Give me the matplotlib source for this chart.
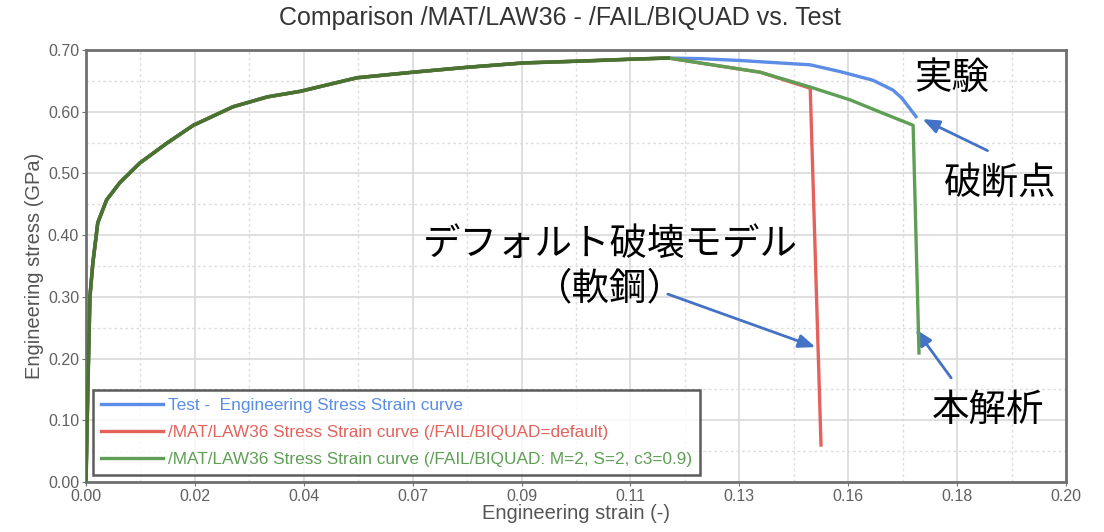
import matplotlib
matplotlib.use("Agg")
import matplotlib.pyplot as plt
import numpy as np

# ---- data -------------------------------------------------------------
# shared hardening branch (all three curves coincide up to the peak)
strain_common = [0.0, 0.0004, 0.0008, 0.0014, 0.0024, 0.0042, 0.0069, 0.011,
                 0.0165, 0.0219, 0.030, 0.037, 0.0437, 0.0553, 0.0667, 0.0778,
                 0.0892, 0.1008, 0.111, 0.1188]
stress_common = [0.0, 0.16, 0.30, 0.355, 0.42, 0.457, 0.485, 0.517,
                 0.549, 0.578, 0.608, 0.624, 0.633, 0.655, 0.664, 0.672,
                 0.679, 0.682, 0.685, 0.687]

# test curve after the peak
strain_test_tail = [0.1253, 0.1335, 0.1416, 0.1478, 0.1539, 0.1606, 0.1647, 0.1665, 0.1694]
stress_test_tail = [0.686, 0.683, 0.679, 0.676, 0.665, 0.651, 0.635, 0.622, 0.592]

# BIQUAD default (mild steel)
strain_red_tail = [0.1253, 0.1376, 0.1478, 0.1500]
stress_red_tail = [0.679, 0.664, 0.638, 0.060]

# BIQUAD M=2, S=2, c3=0.9
strain_green_tail = [0.1253, 0.1376, 0.1478, 0.1560, 0.1625, 0.1688, 0.1700]
stress_green_tail = [0.679, 0.664, 0.640, 0.619, 0.598, 0.578, 0.209]

x_ticks = np.linspace(0.0, 0.20, 10)
y_ticks = [0.0, 0.1, 0.2, 0.3, 0.4, 0.5, 0.6, 0.7]

labels = ["Test -  Engineering Stress Strain curve",
          "/MAT/LAW36 Stress Strain curve (/FAIL/BIQUAD=default)",
          "/MAT/LAW36 Stress Strain curve (/FAIL/BIQUAD: M=2, S=2, c3=0.9)"]

# ---- style ------------------------------------------------------------
W, H = 1104, 532
sans = ["Liberation Sans", "DejaVu Sans"]
jp = ["Noto Sans CJK JP", "DejaVu Sans"]
c_blue, c_red, c_green = "#5b8ce6", "#e4625c", "#5f9e55"
c_arrow = "#4472c4"

fig = plt.figure(figsize=(W / 100, H / 100), dpi=100)
ax = fig.add_axes([86 / W, 1 - 482 / H, 980 / W, 432 / H])

test_x = strain_common + strain_test_tail
test_y = stress_common + stress_test_tail
red_x = strain_common + strain_red_tail
red_y = stress_common + stress_red_tail
green_x = strain_common + strain_green_tail
green_y = stress_common + stress_green_tail

ax.plot(test_x, test_y, color=c_blue, lw=2.4, label=labels[0], zorder=3)
ax.plot(red_x, red_y, color=c_red, lw=2.4, label=labels[1], zorder=4)
ax.plot(green_x, green_y, color=c_green, lw=2.4, label=labels[2], zorder=5)
# darker overlap where the three curves coincide
ax.plot(strain_common, stress_common, color="#4a7332", lw=2.6, zorder=6)

ax.set_xlim(0, 0.20)
ax.set_ylim(0, 0.70)
ax.set_xticks(x_ticks)
ax.set_xticklabels([f"{v:.2f}" for v in x_ticks])
ax.set_yticks(y_ticks)
ax.set_yticklabels([f"{v:.2f}" for v in y_ticks])
ax.set_xticks((x_ticks[:-1] + x_ticks[1:]) / 2, minor=True)
ax.set_yticks(np.arange(0.05, 0.70, 0.1), minor=True)
ax.grid(which="major", color="#d9d9d9", lw=1.2)
ax.grid(which="minor", color="#dedede", lw=1.0, ls=(0, (2, 2)))
ax.set_axisbelow(True)
ax.tick_params(which="major", length=3, color="#707070", labelsize=11.5,
               labelcolor="#606060", pad=2)
ax.tick_params(which="minor", length=0)
for lab in ax.get_xticklabels() + ax.get_yticklabels():
    lab.set_family(sans)
for s in ax.spines.values():
    s.set_color("#707070")
    s.set_linewidth(2)

ax.set_xlabel("Engineering strain (-)", fontsize=14.5, color="#555555",
              family=sans, labelpad=0)
ax.set_ylabel("Engineering stress (GPa)", fontsize=14.5, color="#555555",
              family=sans, labelpad=3)

fig.text(560 / W, 1 - 18 / H, "Comparison /MAT/LAW36 - /FAIL/BIQUAD vs. Test",
         ha="center", va="center", fontsize=18, color="#333333", family=sans)

leg = ax.legend(loc="lower left", bbox_to_anchor=(0.007, 0.016), borderaxespad=0,
                prop={"family": sans, "size": 12.4}, labelcolor="linecolor",
                frameon=True, fancybox=False, edgecolor="#333333",
                handlelength=3.6, handletextpad=0.3, borderpad=0.45,
                labelspacing=0.7)
leg.get_frame().set_linewidth(1.8)
leg.set_zorder(10)

# ---- annotations ------------------------------------------------------
def fx(px):
    return px / W

def fy(py):
    return 1 - py / H

fig.text(fx(952), fy(78), "実験", fontsize=27, family=jp, ha="center", va="center")
fig.text(fx(1000), fy(184), "破断点", fontsize=27, family=jp, ha="center", va="center")
fig.text(fx(610), fy(244), "デフォルト破壊モデル", fontsize=27, family=jp,
         ha="center", va="center")
fig.text(fx(610), fy(289), "（軟鋼）", fontsize=27, family=jp, ha="center", va="center")
fig.text(fx(988), fy(410), "本解析", fontsize=27, family=jp, ha="center", va="center")

arrow_kw = dict(arrowstyle="-|>,head_length=1.0,head_width=0.4", color=c_arrow, lw=2)
ax.annotate("", xy=(0.1702, 0.590), xytext=(0.1845, 0.535),
            arrowprops=arrow_kw, annotation_clip=False)
ax.annotate("", xy=(0.1494, 0.217), xytext=(0.1182, 0.306),
            arrowprops=arrow_kw, annotation_clip=False)
ax.annotate("", xy=(0.1690, 0.251), xytext=(0.1769, 0.165),
            arrowprops=arrow_kw, annotation_clip=False)

fig.savefig("out.png", dpi=100)
